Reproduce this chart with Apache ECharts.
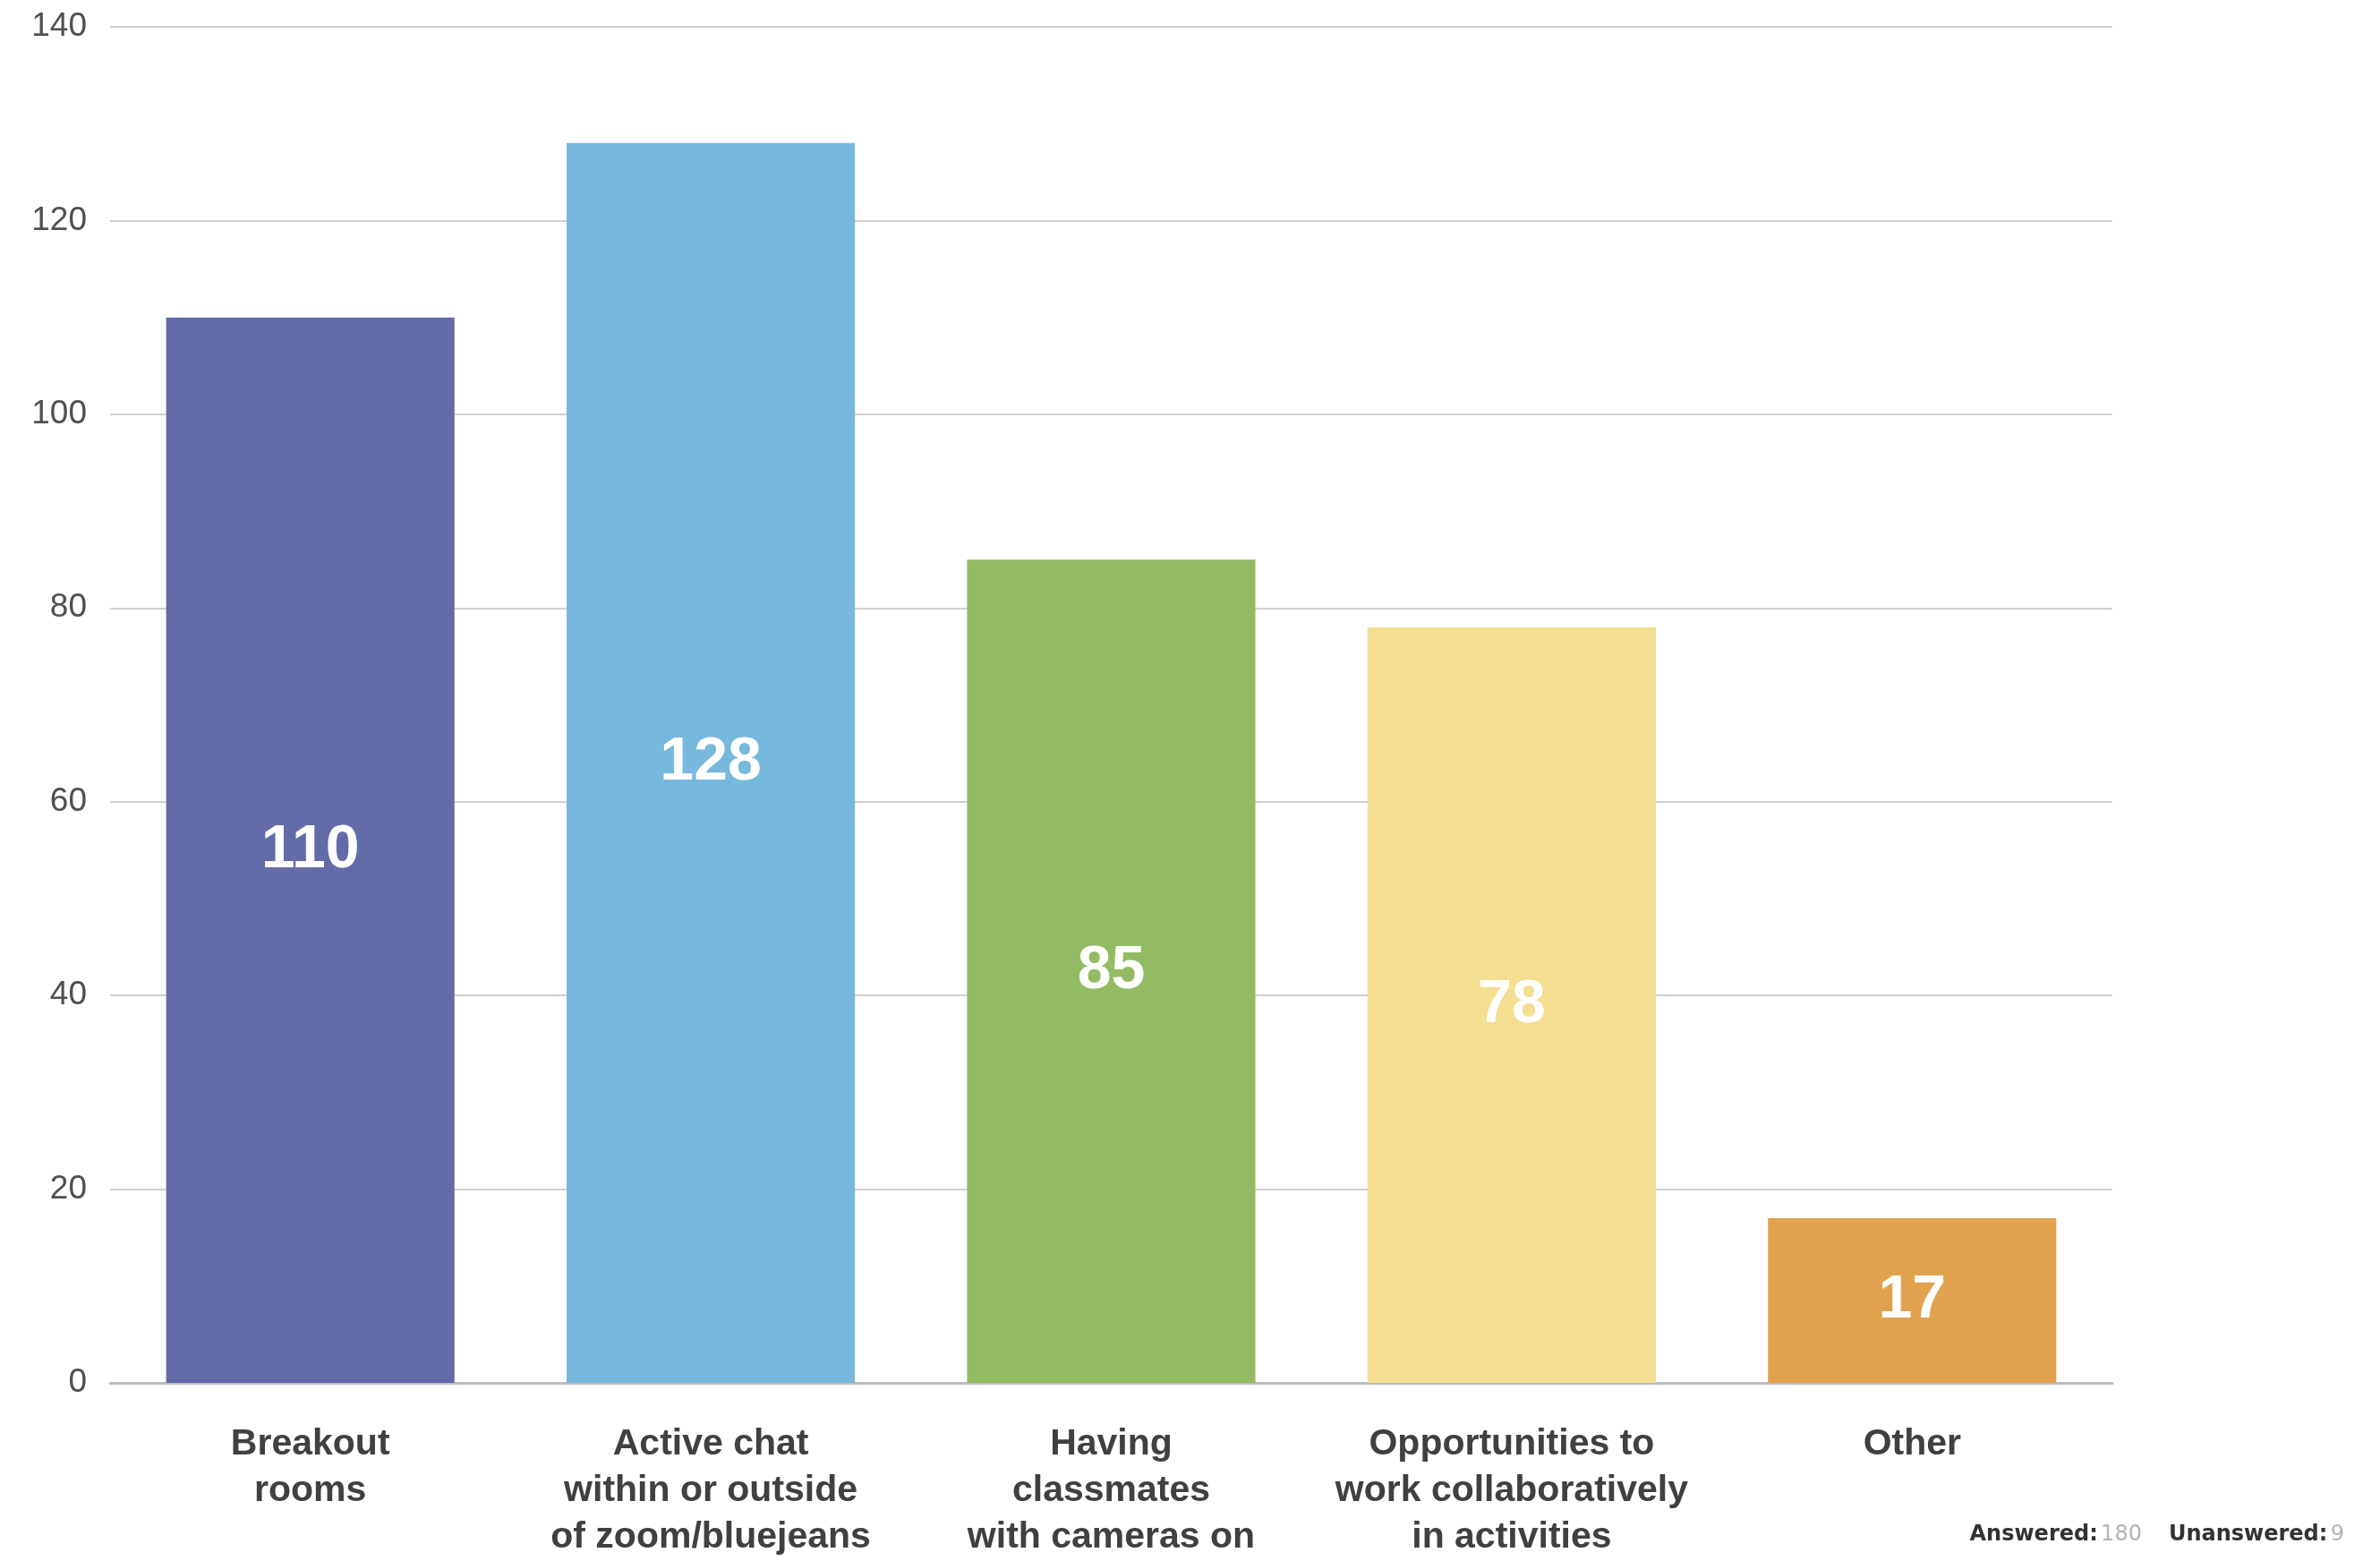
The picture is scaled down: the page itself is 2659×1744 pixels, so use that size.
<!DOCTYPE html>
<html>
<head>
<meta charset="utf-8">
<style>
  html, body { margin: 0; padding: 0; background: #ffffff; overflow: hidden; }
  #chart { width: 2659px; height: 1744px; }
</style>
<script src="https://cdn.jsdelivr.net/npm/echarts@6/dist/echarts.min.js"></script>
</head>
<body>
<div id="chart"></div>
<script>
// Survey responses per option
const categories = [
  'Breakout\nrooms',
  'Active chat\nwithin or outside\nof zoom/bluejeans',
  'Having\nclassmates\nwith cameras on',
  'Opportunities to\nwork collaboratively\nin activities',
  'Other'
];
const responses = [110, 128, 85, 78, 17];
const barColors = ['#636aa8', '#77b8dd', '#93bb63', '#f4de91', '#e0a24f'];
const answeredCount = 180;
const unansweredCount = 9;

const font = '"Liberation Sans", Arial, Helvetica, sans-serif';
const footFont = '"DejaVu Sans", Verdana, sans-serif';

const chart = echarts.init(document.getElementById('chart'), null, { renderer: 'canvas' });

chart.setOption({
  backgroundColor: '#ffffff',
  animation: false,
  grid: { left: 123, right: 299, top: 30, bottom: 195, containLabel: false },
  xAxis: {
    type: 'category',
    data: categories,
    axisLine: { show: true, lineStyle: { color: '#bdbdbd', width: 3 } },
    axisTick: { show: false },
    axisLabel: {
      interval: 0,
      margin: 43,
      color: '#404040',
      fontFamily: font,
      fontWeight: 'bold',
      fontSize: 41,
      lineHeight: 52,
      align: 'center'
    }
  },
  yAxis: {
    type: 'value',
    min: 0,
    max: 140,
    interval: 20,
    axisLine: { show: false },
    axisTick: { show: false },
    splitLine: { lineStyle: { color: '#cfcfcf', width: 2 } },
    axisLabel: {
      margin: 26,
      color: '#505050',
      fontFamily: font,
      fontSize: 37
    }
  },
  series: [{
    type: 'bar',
    data: responses.map((v, i) => ({ value: v, itemStyle: { color: barColors[i] } })),
    barCategoryGap: '28%',
    label: {
      show: true,
      position: 'inside',
      color: '#ffffff',
      fontFamily: font,
      fontWeight: 'bold',
      fontSize: 68
    }
  }],
  graphic: [{
    type: 'text',
    right: 40,
    top: 1703,
    style: {
      text: '{k|Answered:} {v|' + answeredCount + '}{gap| }{k|Unanswered:} {v|' + unansweredCount + '}',
      rich: {
        k: { fontFamily: footFont, fontWeight: 'bold', fontSize: 24, fill: '#333333' },
        v: { fontFamily: footFont, fontSize: 24, fill: '#b4b4b4' },
        gap: { fontFamily: footFont, fontSize: 24, width: 30 }
      }
    }
  }]
});
</script>
</body>
</html>
